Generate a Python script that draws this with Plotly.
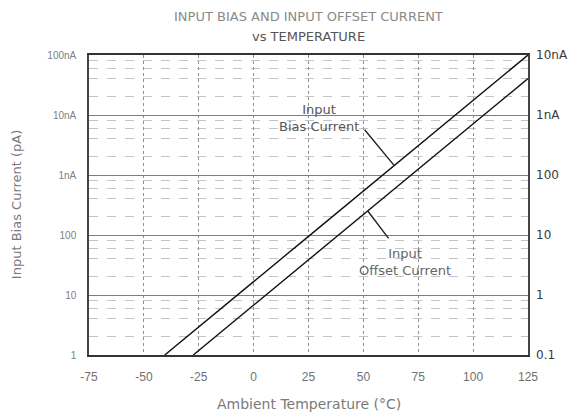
import plotly.graph_objects as go

# ---- data ----
temps = [-40.5, -25, 0, 25, 50, 75, 100, 125]
bias_current = [1.0, 2.9, 16.7, 95, 542, 3090, 17600, 100000]          # pA
offset_temps = [-27.5, -25, 0, 25, 50, 75, 100, 125]
offset_current = [1.0, 1.19, 6.8, 38.5, 219, 1250, 7110, 40500]        # pA

x_ticks = [-75, -50, -25, 0, 25, 50, 75, 100, 125]
x_tick_labels = ["-75", "-50", "-25", "0", "25", "50", "75", "100", "125"]
left_ticks = [1, 10, 100, 1000, 10000, 100000]
left_tick_labels = ["1", "10", "100", "1nA", "10nA", "100nA"]
right_ticks = [0.1, 1, 10, 100, 1000, 10000]
right_tick_labels = ["0.1", "1", "10", "100", "1nA", "10nA"]
minor_vals = [2, 4, 6, 8, 20, 40, 60, 80, 200, 400, 600, 800,
              2000, 4000, 6000, 8000, 20000, 40000, 60000, 80000]

title_1 = "INPUT BIAS AND INPUT OFFSET CURRENT"
title_2 = "vs TEMPERATURE"
x_title = "Ambient Temperature (°C)"
y_title = "Input Bias Current (pA)"

FONT = "Liberation Sans, Arial, sans-serif"
WIDE = "DejaVu Sans, sans-serif"
GREY = "#707070"

fig = go.Figure()
fig.add_trace(go.Scatter(x=temps, y=bias_current, mode="lines",
                         line=dict(color="#111111", width=1.4),
                         showlegend=False, hoverinfo="skip"))
fig.add_trace(go.Scatter(x=offset_temps, y=offset_current, mode="lines",
                         line=dict(color="#111111", width=1.4),
                         showlegend=False, hoverinfo="skip"))
# invisible trace to carry the right-hand axis
fig.add_trace(go.Scatter(x=[x_ticks[0]], y=[right_ticks[0]], yaxis="y2",
                         mode="markers", marker=dict(opacity=0),
                         showlegend=False, hoverinfo="skip"))

fig.update_layout(
    width=580, height=417,
    margin=dict(l=89, r=45, t=55, b=62),
    paper_bgcolor="white", plot_bgcolor="white",
    font=dict(family=FONT, color=GREY, size=11),
    xaxis=dict(
        range=[-75, 125], tickvals=x_ticks, ticktext=x_tick_labels,
        showgrid=True, gridcolor="#8f8f8f", griddash="dot", gridwidth=1,
        showline=True, linecolor="#333333", linewidth=1.5, mirror=True,
        ticks="", ticklabelstandoff=10, zeroline=False,
        tickfont=dict(size=12, color=GREY, family=FONT),
    ),
    yaxis=dict(
        type="log", range=[0, 5], tickvals=left_ticks, ticktext=left_tick_labels,
        showgrid=True, gridcolor="#7d7d7d", gridwidth=1.2,
        showline=True, linecolor="#444444", linewidth=1.5, mirror=True,
        ticks="", ticklabelstandoff=9, zeroline=False,
        tickfont=dict(size=10, color="#808080", family=FONT),
        minor=dict(tickmode="array", tickvals=minor_vals, showgrid=True,
                   gridcolor="#c4c4c4", griddash="dash", gridwidth=1, ticks=""),
    ),
    yaxis2=dict(
        type="log", range=[-1, 4], overlaying="y", side="right",
        tickvals=right_ticks, ticktext=right_tick_labels,
        showgrid=False, showline=False, ticks="", ticklabelstandoff=7,
        zeroline=False, tickfont=dict(size=12, color="#3a3a3a", family=WIDE),
    ),
)

annotations = [
    dict(text=title_1, x=0.5, y=1.13, xref="paper", yref="paper",
         xanchor="center", yanchor="middle",
         showarrow=False, font=dict(size=13, color="#8a8a8a", family=WIDE)),
    dict(text=title_2, x=0.5, y=1.06, xref="paper", yref="paper",
         xanchor="center", yanchor="middle",
         showarrow=False, font=dict(size=13, color="#555555", family=WIDE)),
    dict(text=x_title, x=0.5, y=-0.162, xref="paper", yref="paper",
         xanchor="center", yanchor="middle",
         showarrow=False, font=dict(size=14, color="#7a7a7a", family=WIDE)),
    dict(text=y_title, x=-0.166, y=0.5, xref="paper", yref="paper",
         xanchor="center", yanchor="middle",
         textangle=-90, showarrow=False, font=dict(size=13, color="#7a7a7a", family=WIDE)),
    dict(text="Input<br>Bias Current", x=30, y=3.95, xref="x", yref="y",
         showarrow=False, font=dict(size=13, color="#555555", family=WIDE)),
    dict(text="Input<br>Offset Current", x=69, y=1.55, xref="x", yref="y",
         showarrow=False, font=dict(size=13, color="#666666", family=WIDE)),
    dict(text="", x=64, y=3.16, xref="x", yref="y",
         ax=50, ay=3.78, axref="x", ayref="y",
         showarrow=True, arrowhead=0, arrowwidth=1.4, arrowcolor="#222222"),
    dict(text="", x=52, y=2.40, xref="x", yref="y",
         ax=62, ay=1.92, axref="x", ayref="y",
         showarrow=True, arrowhead=0, arrowwidth=1.4, arrowcolor="#222222"),
]
fig.update_layout(annotations=annotations)

fig.write_html("out.html")
